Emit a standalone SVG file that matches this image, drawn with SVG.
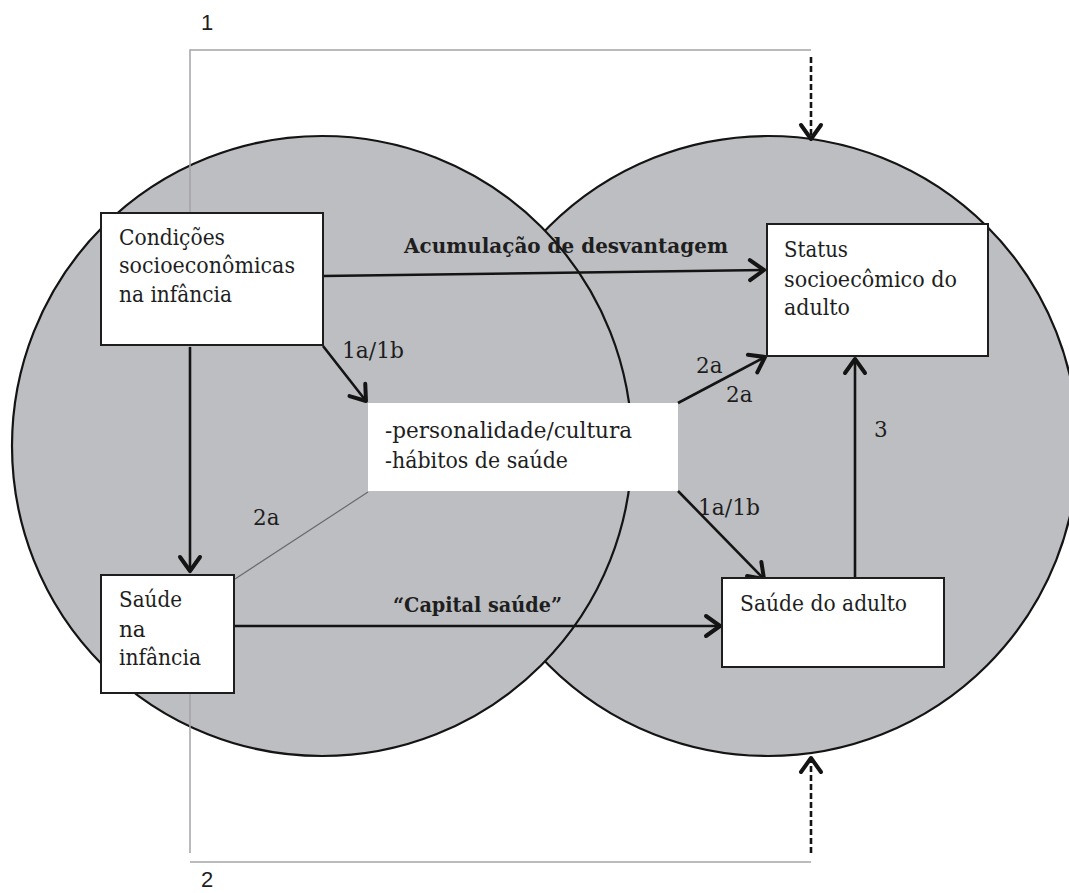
<svg xmlns="http://www.w3.org/2000/svg" width="1069" height="893" viewBox="0 0 1069 893">
<style>
.circ{fill:#bdbec2;stroke:#141414;stroke-width:2.2}
.box{fill:#ffffff;stroke:#1e1e1e;stroke-width:2}
.t{font-family:"DejaVu Serif","Liberation Serif",serif;font-size:21.5px;fill:#1e1e1e}
.b{font-family:"DejaVu Serif","Liberation Serif",serif;font-size:21px;font-weight:bold;fill:#1e1e1e}
.num{font-family:"Liberation Sans",Arial,sans-serif;font-size:22px;fill:#1e1e1e}
.arr{stroke:#141414;stroke-width:2.6;fill:none;marker-end:url(#ah)}
.dash{stroke:#141414;stroke-width:2.6;fill:none;stroke-dasharray:6 3;marker-end:url(#ah)}
.brk{stroke:#a4a4a8;stroke-width:1.5;fill:none}
</style>
<defs>
<marker id="ah" markerUnits="userSpaceOnUse" markerWidth="30" markerHeight="30" viewBox="-20 -15 30 30" refX="0" refY="0" orient="auto">
<path d="M-14,-10 L0,0 L-14,10" fill="none" stroke="#141414" stroke-width="4" stroke-linecap="round" stroke-linejoin="round"/>
</marker>
</defs>
<rect width="1069" height="893" fill="#ffffff"/>
<g id="circles">
<circle class="circ" cx="768" cy="446" r="310"/>
<circle class="circ" cx="322" cy="446" r="310"/>
</g>
<g id="connectors">
<polyline class="brk" points="811,50 190,50 190,853"/>
<line class="brk" x1="190" y1="862" x2="811" y2="862"/>
<line class="dash" x1="811" y1="57" x2="811" y2="139"/>
<line class="dash" x1="811" y1="853" x2="811" y2="758"/>
<line class="arr" x1="323" y1="276" x2="764" y2="270"/>
<line class="arr" x1="190" y1="347" x2="190" y2="571"/>
<line class="arr" x1="323" y1="346" x2="366" y2="401"/>
<line class="arr" x1="678" y1="403" x2="765" y2="357"/>
<line class="arr" x1="678" y1="491" x2="764" y2="579"/>
<line class="arr" x1="234" y1="626" x2="720" y2="626"/>
<line class="arr" x1="855" y1="578" x2="855" y2="359"/>
<line x1="235" y1="579" x2="368" y2="492" stroke="#6a6a6a" stroke-width="1.2"/>
<text class="b" x="404" y="253" textLength="324" lengthAdjust="spacingAndGlyphs">Acumulação de desvantagem</text>
<text class="b" x="393" y="612" textLength="169" lengthAdjust="spacingAndGlyphs">“Capital saúde”</text>
<text class="t" x="342" y="358" textLength="62" lengthAdjust="spacingAndGlyphs">1a/1b</text>
<text class="t" x="696" y="373">2a</text>
<text class="t" x="726" y="402">2a</text>
<text class="t" x="698" y="515" textLength="62" lengthAdjust="spacingAndGlyphs">1a/1b</text>
<text class="t" x="253" y="525">2a</text>
<text class="t" x="874" y="437">3</text>
<text class="num" x="201" y="30">1</text>
<text class="num" x="201" y="887">2</text>
</g>
<g id="node-condicoes">
<rect class="box" x="101" y="213" width="222" height="132"/>
<text class="t" x="119" y="245" textLength="106" lengthAdjust="spacingAndGlyphs">Condições</text>
<text class="t" x="119" y="273" textLength="176" lengthAdjust="spacingAndGlyphs">socioeconômicas</text>
<text class="t" x="119" y="302" textLength="113" lengthAdjust="spacingAndGlyphs">na infância</text>
</g>
<g id="node-saude-infancia">
<rect class="box" x="101" y="575" width="133" height="118"/>
<text class="t" x="119" y="607" textLength="63" lengthAdjust="spacingAndGlyphs">Saúde</text>
<text class="t" x="119" y="637">na</text>
<text class="t" x="119" y="665" textLength="82" lengthAdjust="spacingAndGlyphs">infância</text>
</g>
<g id="node-mediadores">
<rect x="368" y="403" width="310" height="88" fill="#ffffff"/>
<text class="t" x="385" y="438" textLength="247" lengthAdjust="spacingAndGlyphs">-personalidade/cultura</text>
<text class="t" x="385" y="468" textLength="183" lengthAdjust="spacingAndGlyphs">-hábitos de saúde</text>
</g>
<g id="node-status-adulto">
<rect class="box" x="767" y="224" width="221" height="132"/>
<text class="t" x="784" y="257" textLength="64" lengthAdjust="spacingAndGlyphs">Status</text>
<text class="t" x="784" y="287" textLength="173" lengthAdjust="spacingAndGlyphs">socioecômico do</text>
<text class="t" x="784" y="315" textLength="66" lengthAdjust="spacingAndGlyphs">adulto</text>
</g>
<g id="node-saude-adulto">
<rect class="box" x="722" y="578" width="222" height="89"/>
<text class="t" x="740" y="611" textLength="167" lengthAdjust="spacingAndGlyphs">Saúde do adulto</text>
</g>
</svg>
